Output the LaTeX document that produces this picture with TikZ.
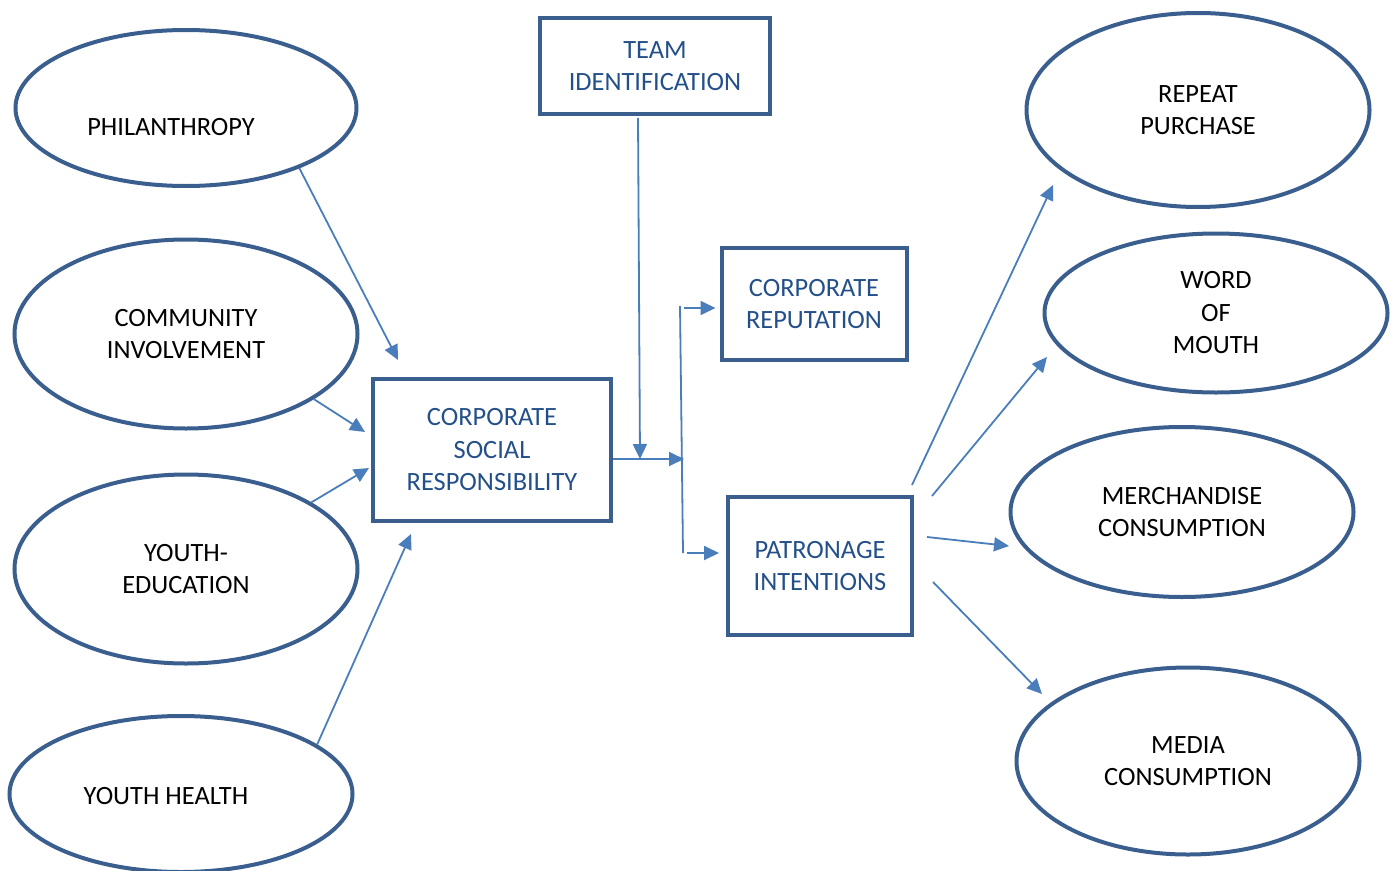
\documentclass[tikz,border=0pt]{standalone}
\usepackage{fontspec}
\setmainfont{Carlito}
\usetikzlibrary{arrows.meta,shapes.geometric}
\definecolor{outl}{HTML}{3A5F8E}
\definecolor{arrw}{HTML}{4A7EBB}
\definecolor{boxtxt}{HTML}{24508A}

\begin{document}
\begin{tikzpicture}[x=1pt,y=-1pt,font=\fontsize{26.4}{32.5}\selectfont,
    blob/.style={ellipse,draw=outl,line width=4pt,inner sep=0pt,align=center},
    tag/.style={rectangle,draw=outl,line width=4pt,text=boxtxt,align=center},
    link/.style={draw=arrw,line width=1.8pt,-{Triangle[length=15pt,width=14pt]}}]
  \useasboundingbox (0,0) rectangle (1399,870);

  \node[blob,minimum width=341pt,minimum height=156pt,
    label={[shift={(-15,19)}]center:PHILANTHROPY}](phil) at (186,108){};
  \node[blob,minimum width=343pt,minimum height=189pt](comm) at (186,334){COMMUNITY\\INVOLVEMENT};
  \node[blob,minimum width=343pt,minimum height=189pt](yedu) at (186,569){YOUTH-\\EDUCATION};
  \node[blob,minimum width=343pt,minimum height=156pt,
    label={[shift={(-15,2)}]center:YOUTH HEALTH}](yhea) at (181,794){};

  \node[blob,minimum width=343pt,minimum height=194pt](rpt) at (1198,110){REPEAT\\PURCHASE};
  \node[blob,minimum width=343pt,minimum height=159pt](wom) at (1216,313){WORD\\OF\\MOUTH};
  \node[blob,minimum width=343pt,minimum height=170pt](merch) at (1182,512){MERCHANDISE\\CONSUMPTION};
  \node[blob,minimum width=343pt,minimum height=187pt](media) at (1188,761){MEDIA\\CONSUMPTION};

  \node[tag,minimum width=230pt,minimum height=96pt](team) at (655,66){TEAM\\IDENTIFICATION};
  \node[tag,minimum width=185pt,minimum height=112pt](crep) at (814,304){CORPORATE\\REPUTATION};
  \node[tag,minimum width=238pt,minimum height=142pt](csr) at (492,450){CORPORATE\\SOCIAL\\RESPONSIBILITY};
  \node[tag,minimum width=184pt,minimum height=138pt](pat) at (820,566){PATRONAGE\\INTENTIONS};

  \coordinate (busT) at (680,306);
  \coordinate (busB) at (683,553);
  \coordinate (busM) at (684,459);
  \coordinate (tj) at (640,459);

  \draw[link] (phil.-28) -- ([shift={(-94,-90)}]csr.center);
  \draw[link] (comm.-27) -- ([shift={(-6,-18)}]csr.west);
  \draw[link] (yedu.28) -- ([shift={(-2,18)}]csr.west);
  \draw[link] (yhea.20) -- ([shift={(40,11)}]csr.south west);

  \draw[link] ([shift={(-17,2)}]team.south) -- (tj);
  \draw[link] ([shift={(0,9)}]csr.east) -- (busM);
  \draw[draw=arrw,line width=1.8pt] (busT) -- (busB);
  \draw[link] ([xshift=4pt,yshift=-2pt]busT) -- ([shift={(-4,4)}]crep.west);
  \draw[link] ([xshift=4pt]busB) -- ([shift={(-7,-13)}]pat.west);

  \draw[link] ([shift={(-2,-10)}]pat.north east) -- ([shift={(-145,75)}]rpt.center);
  \draw[link] ([shift={(18,1)}]pat.north east) -- ([shift={(-169,44)}]wom.center);
  \draw[link] ([shift={(13,-29)}]pat.east) -- ([shift={(-173,34)}]merch.center);
  \draw[link] ([shift={(19,16)}]pat.east) -- ([shift={(-146,-67)}]media.center);
\end{tikzpicture}
\end{document}
